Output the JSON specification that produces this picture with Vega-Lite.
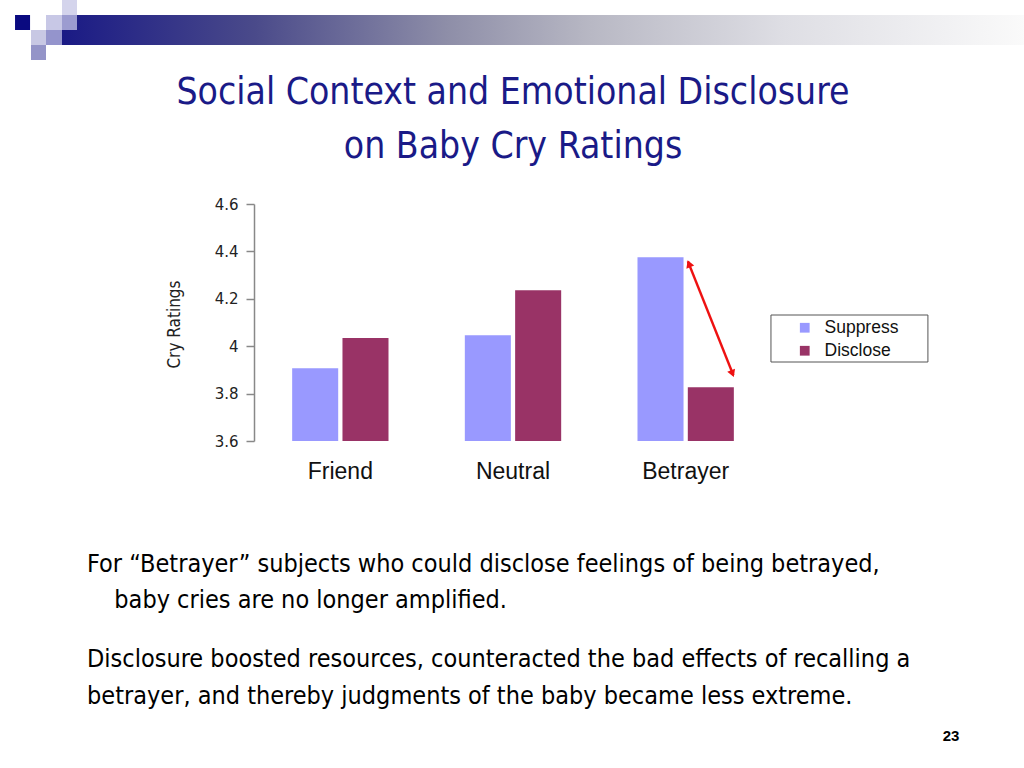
{
  "$schema": "https://vega.github.io/schema/vega-lite/v6.json",
  "width": 518,
  "height": 237,
  "autosize": "none",
  "padding": {"left": 254, "top": 204, "right": 252, "bottom": 327},
  "background": "white",
  "title": {
    "text": ["Social Context and Emotional Disclosure", "on Baby Cry Ratings"],
    "font": "'DejaVu Sans Condensed', 'Liberation Sans Narrow', sans-serif",
    "fontSize": 37,
    "fontWeight": "normal",
    "color": "#1a1a87",
    "lineHeight": 54,
    "anchor": "middle",
    "frame": "group",
    "offset": -166
  },
  "config": {
    "view": {"stroke": null},
    "legend": {
      "orient": "none",
      "legendX": 542,
      "legendY": 115,
      "padding": 0,
      "symbolType": "square",
      "symbolSize": 95,
      "labelFont": "Liberation Sans",
      "labelFontSize": 17.5,
      "labelColor": "#111",
      "labelOffset": 11,
      "rowPadding": 4,
      "title": null
    }
  },
  "layer": [
    {
      "data": {"values": [{}]},
      "layer": [
        {
          "mark": {"type": "rect", "fill": {"x1": 0, "y1": 0, "x2": 1, "y2": 0, "gradient": "linear", "stops": [
            {"offset": 0, "color": "#1a1a85"},
            {"offset": 0.2, "color": "#4a4a8a"},
            {"offset": 0.4, "color": "#8e8ea8"},
            {"offset": 0.55, "color": "#b8b8c4"},
            {"offset": 0.75, "color": "#dedee4"},
            {"offset": 1, "color": "#fafafa"}
          ]}},
          "encoding": {
            "x": {"datum": -1.112, "type": "quantitative", "scale": {"domain": [0, 3], "nice": false, "zero": false}, "axis": null},
            "x2": {"datum": 4.459},
            "y": {"datum": 5.3975, "type": "quantitative", "scale": {"domain": [3.6, 4.6], "nice": false, "zero": false}},
            "y2": {"datum": 5.2709}
          }
        },
        {
          "mark": {"type": "rect", "fill": "#0a0a80"},
          "encoding": {
            "x": {"datum": -1.384, "type": "quantitative", "scale": {"domain": [0, 3], "nice": false, "zero": false}, "axis": null},
            "x2": {"datum": -1.297},
            "y": {"datum": 5.3975, "type": "quantitative", "scale": {"domain": [3.6, 4.6], "nice": false, "zero": false}},
            "y2": {"datum": 5.3342}
          }
        },
        {
          "mark": {"type": "rect", "fill": "#d4d4ec"},
          "encoding": {
            "x": {"datum": -1.112, "type": "quantitative", "scale": {"domain": [0, 3], "nice": false, "zero": false}, "axis": null},
            "x2": {"datum": -1.025},
            "y": {"datum": 5.4608, "type": "quantitative", "scale": {"domain": [3.6, 4.6], "nice": false, "zero": false}},
            "y2": {"datum": 5.3975}
          }
        },
        {
          "mark": {"type": "rect", "fill": "#c8c8e6"},
          "encoding": {
            "x": {"datum": -1.2046, "type": "quantitative", "scale": {"domain": [0, 3], "nice": false, "zero": false}, "axis": null},
            "x2": {"datum": -1.112},
            "y": {"datum": 5.3975, "type": "quantitative", "scale": {"domain": [3.6, 4.6], "nice": false, "zero": false}},
            "y2": {"datum": 5.3342}
          }
        },
        {
          "mark": {"type": "rect", "fill": "#9c9cd0"},
          "encoding": {
            "x": {"datum": -1.112, "type": "quantitative", "scale": {"domain": [0, 3], "nice": false, "zero": false}, "axis": null},
            "x2": {"datum": -1.025},
            "y": {"datum": 5.3975, "type": "quantitative", "scale": {"domain": [3.6, 4.6], "nice": false, "zero": false}},
            "y2": {"datum": 5.3342}
          }
        },
        {
          "mark": {"type": "rect", "fill": "#c8c8e4"},
          "encoding": {
            "x": {"datum": -1.2915, "type": "quantitative", "scale": {"domain": [0, 3], "nice": false, "zero": false}, "axis": null},
            "x2": {"datum": -1.2046},
            "y": {"datum": 5.3342, "type": "quantitative", "scale": {"domain": [3.6, 4.6], "nice": false, "zero": false}},
            "y2": {"datum": 5.2709}
          }
        },
        {
          "mark": {"type": "rect", "fill": "#9494cc"},
          "encoding": {
            "x": {"datum": -1.2046, "type": "quantitative", "scale": {"domain": [0, 3], "nice": false, "zero": false}, "axis": null},
            "x2": {"datum": -1.112},
            "y": {"datum": 5.3342, "type": "quantitative", "scale": {"domain": [3.6, 4.6], "nice": false, "zero": false}},
            "y2": {"datum": 5.2709}
          }
        },
        {
          "mark": {"type": "rect", "fill": "#9494c8"},
          "encoding": {
            "x": {"datum": -1.2915, "type": "quantitative", "scale": {"domain": [0, 3], "nice": false, "zero": false}, "axis": null},
            "x2": {"datum": -1.2046},
            "y": {"datum": 5.2709, "type": "quantitative", "scale": {"domain": [3.6, 4.6], "nice": false, "zero": false}},
            "y2": {"datum": 5.2076}
          }
        },
        {
          "mark": {"type": "rect", "fill": "white", "stroke": "#555", "strokeWidth": 1},
          "encoding": {
            "x": {"datum": 2.994, "type": "quantitative", "scale": {"domain": [0, 3], "nice": false, "zero": false}, "axis": null},
            "x2": {"datum": 3.903},
            "y": {"datum": 4.1316, "type": "quantitative", "scale": {"domain": [3.6, 4.6], "nice": false, "zero": false}},
            "y2": {"datum": 3.9333}
          }
        }
      ]
    },
    {
      "data": {"values": [
        {"Group": "Friend", "Condition": "Suppress", "Rating": 3.907},
        {"Group": "Friend", "Condition": "Disclose", "Rating": 4.035},
        {"Group": "Neutral", "Condition": "Suppress", "Rating": 4.046},
        {"Group": "Neutral", "Condition": "Disclose", "Rating": 4.236},
        {"Group": "Betrayer", "Condition": "Suppress", "Rating": 4.375},
        {"Group": "Betrayer", "Condition": "Disclose", "Rating": 3.827}
      ]},
      "mark": {"type": "bar"},
      "encoding": {
        "x": {
          "field": "Group", "type": "nominal", "sort": ["Friend", "Neutral", "Betrayer"],
          "scale": {"paddingInner": 0.442, "paddingOuter": 0.221},
          "axis": {
            "domain": false, "ticks": false, "grid": false, "title": null,
            "labelAngle": 0, "labelFont": "Liberation Sans", "labelFontSize": 23, "labelColor": "#111", "labelPadding": 19
          }
        },
        "xOffset": {"field": "Condition", "type": "nominal", "sort": ["Suppress", "Disclose"], "scale": {"paddingInner": 0.085, "paddingOuter": 0}},
        "y": {
          "field": "Rating", "type": "quantitative",
          "scale": {"domain": [3.6, 4.6], "nice": false, "zero": false},
          "axis": {
            "values": [3.6, 3.8, 4.0, 4.2, 4.4, 4.6], "format": ".1~f", "grid": false,
            "domainColor": "#888", "domainWidth": 1.5, "tickColor": "#888", "tickWidth": 1.5, "tickSize": 8,
            "labelFont": "DejaVu Sans", "labelFontSize": 15, "labelColor": "#222", "labelPadding": 8,
            "title": "Cry Ratings", "titleFont": "'DejaVu Sans Condensed', 'Liberation Sans Narrow', sans-serif", "titleFontSize": 17, "titleFontWeight": "normal", "titleColor": "#222",
            "titleX": -80, "titleY": 120, "titleAngle": -90, "titleAlign": "center", "titleBaseline": "middle"
          }
        },
        "y2": {"datum": 3.6},
        "color": {
          "field": "Condition", "type": "nominal", "sort": ["Suppress", "Disclose"],
          "scale": {"domain": ["Suppress", "Disclose"], "range": ["#9999ff", "#993366"]}
        }
      }
    },
    {
      "data": {"values": [{"page": "23",
        "p1a": "For \u201cBetrayer\u201d subjects who could disclose feelings of being betrayed,",
        "p1b": "baby cries are no longer amplified.",
        "p2": ["Disclosure boosted resources, counteracted the bad effects of recalling a", "betrayer, and thereby judgments of the baby became less extreme."]
      }]},
      "layer": [
        {
          "mark": {"type": "rule", "color": "#ee1111", "strokeWidth": 2.5},
          "encoding": {
            "x": {"datum": 2.513, "type": "quantitative", "scale": {"domain": [0, 3], "nice": false, "zero": false}, "axis": null},
            "x2": {"datum": 2.776},
            "y": {"datum": 4.358, "type": "quantitative", "scale": {"domain": [3.6, 4.6], "nice": false, "zero": false}},
            "y2": {"datum": 3.878}
          }
        },
        {
          "mark": {"type": "point", "shape": "triangle-up", "filled": true, "color": "#ee1111", "opacity": 1, "size": 70, "angle": 338.4},
          "encoding": {
            "x": {"datum": 2.519, "type": "quantitative", "scale": {"domain": [0, 3], "nice": false, "zero": false}, "axis": null},
            "y": {"datum": 4.348, "type": "quantitative", "scale": {"domain": [3.6, 4.6], "nice": false, "zero": false}}
          }
        },
        {
          "mark": {"type": "point", "shape": "triangle-up", "filled": true, "color": "#ee1111", "opacity": 1, "size": 70, "angle": 158.4},
          "encoding": {
            "x": {"datum": 2.771, "type": "quantitative", "scale": {"domain": [0, 3], "nice": false, "zero": false}, "axis": null},
            "y": {"datum": 3.884, "type": "quantitative", "scale": {"domain": [3.6, 4.6], "nice": false, "zero": false}}
          }
        },
        {
          "mark": {"type": "text", "font": "Liberation Sans", "fontSize": 15, "fontWeight": "bold", "color": "#000", "align": "center", "baseline": "middle"},
          "encoding": {
            "x": {"datum": 4.037, "type": "quantitative", "scale": {"domain": [0, 3], "nice": false, "zero": false}, "axis": null},
            "y": {"datum": 2.355, "type": "quantitative", "scale": {"domain": [3.6, 4.6], "nice": false, "zero": false}},
            "text": {"field": "page", "type": "nominal"}
          }
        },
        {
          "mark": {"type": "text", "font": "'DejaVu Sans Condensed', 'Liberation Sans Narrow', sans-serif", "fontSize": 25, "color": "#000", "align": "left", "baseline": "alphabetic"},
          "encoding": {
            "x": {"datum": -0.967, "type": "quantitative", "scale": {"domain": [0, 3], "nice": false, "zero": false}, "axis": null},
            "y": {"datum": 3.0485, "type": "quantitative", "scale": {"domain": [3.6, 4.6], "nice": false, "zero": false}},
            "text": {"field": "p1a", "type": "nominal"}
          }
        },
        {
          "mark": {"type": "text", "font": "'DejaVu Sans Condensed', 'Liberation Sans Narrow', sans-serif", "fontSize": 25, "color": "#000", "align": "left", "baseline": "alphabetic"},
          "encoding": {
            "x": {"datum": -0.809, "type": "quantitative", "scale": {"domain": [0, 3], "nice": false, "zero": false}, "axis": null},
            "y": {"datum": 2.894, "type": "quantitative", "scale": {"domain": [3.6, 4.6], "nice": false, "zero": false}},
            "text": {"field": "p1b", "type": "nominal"}
          }
        },
        {
          "mark": {"type": "text", "font": "'DejaVu Sans Condensed', 'Liberation Sans Narrow', sans-serif", "fontSize": 25, "color": "#000", "align": "left", "baseline": "alphabetic", "lineHeight": 37},
          "encoding": {
            "x": {"datum": -0.967, "type": "quantitative", "scale": {"domain": [0, 3], "nice": false, "zero": false}, "axis": null},
            "y": {"datum": 2.6477, "type": "quantitative", "scale": {"domain": [3.6, 4.6], "nice": false, "zero": false}},
            "text": {"field": "p2"}
          }
        }
      ]
    }
  ],
  "resolve": {"scale": {"x": "independent"}, "axis": {"x": "independent"}}
}
